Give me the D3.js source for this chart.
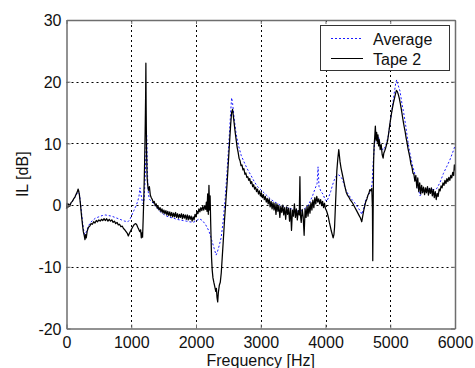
<!DOCTYPE html>
<html>
<head>
<meta charset="utf-8">
<script src="https://cdn.jsdelivr.net/npm/d3@7"></script>
<style>
  body { margin: 0; background: #fff; }
  svg { display: block; font-family: "Liberation Sans", Arial, sans-serif; }
</style>
</head>
<body>
<svg id="chart" width="475" height="368"></svg>
<script>
// axis ticks
const xTicks = [0, 1000, 2000, 3000, 4000, 5000, 6000];
const yTicks = [-20, -10, 0, 10, 20, 30];

// Average (blue dotted) — [Hz, dB]
const average = [
  [0,-0.3],[50,0.0],[100,0.8],[150,1.6],[185,2.4],[200,1.8],[220,0.0],[240,-2.0],[260,-3.8],[280,-4.8],
  [300,-4.5],[330,-3.6],[360,-3.0],[400,-2.5],[450,-2.1],[500,-1.9],[550,-1.7],[600,-1.6],[650,-1.7],
  [700,-1.8],[750,-2.0],[800,-2.2],[850,-2.4],[900,-2.6],[950,-2.7],[980,-2.3],[1010,-1.6],[1040,-0.9],
  [1070,-0.2],[1100,0.6],[1120,1.5],[1135,2.8],[1150,1.8],[1170,0.6],[1185,0.2],[1200,1.0],[1215,4.5],
  [1230,9.5],[1238,11.5],[1245,8.0],[1255,3.5],[1265,1.8],[1280,1.0],[1300,0.7],[1350,0.2],[1400,-0.5],
  [1450,-1.1],[1500,-1.5],[1550,-1.8],[1600,-2.0],[1650,-2.1],[1700,-2.3],[1750,-2.4],[1800,-2.5],
  [1850,-2.6],[1900,-2.7],[1950,-2.8],[2000,-2.6],[2050,-2.2],[2100,-2.5],[2150,-3.2],[2200,-4.2],
  [2240,-5.6],[2280,-7.0],[2310,-8.1],[2330,-7.6],[2360,-6.5],[2390,-5.2],[2420,-2.5],[2450,1.0],
  [2480,5.5],[2510,10.5],[2535,15.0],[2550,17.4],[2565,16.5],[2590,14.0],[2620,11.5],[2660,9.5],
  [2700,8.0],[2750,6.8],[2800,5.7],[2850,4.8],[2900,3.8],[2950,3.0],[3000,2.5],[3050,2.0],[3100,1.5],
  [3150,1.0],[3200,0.6],[3250,0.3],[3300,0.0],[3350,-0.2],[3400,-0.4],[3450,-0.5],[3500,-0.7],
  [3550,-0.9],[3600,-1.1],[3650,-0.8],[3700,-0.4],[3750,0.3],[3800,1.5],[3840,2.7],[3870,3.5],
  [3885,6.2],[3900,3.0],[3930,2.2],[3960,1.8],[3990,1.0],[4020,0.6],[4050,1.3],[4080,2.2],[4110,3.3],
  [4140,4.2],[4170,4.8],[4200,4.9],[4230,4.7],[4260,4.2],[4290,3.2],[4320,2.3],[4350,1.8],[4400,1.0],
  [4450,0.4],[4500,-0.4],[4540,-1.0],[4560,-1.5],[4590,-0.5],[4620,0.8],[4660,1.6],[4700,2.3],
  [4720,3.5],[4740,7.5],[4760,10.2],[4790,11.0],[4820,11.0],[4850,9.6],[4890,8.9],[4930,9.6],
  [4970,11.2],[5000,13.5],[5030,15.8],[5060,18.0],[5085,19.8],[5100,20.3],[5120,19.5],[5150,18.5],
  [5180,16.5],[5210,14.8],[5240,12.8],[5270,10.5],[5300,8.6],[5340,6.6],[5380,5.0],[5420,3.3],
  [5460,1.5],[5500,2.2],[5560,2.6],[5620,2.6],[5680,2.5],[5720,2.7],[5770,3.7],[5820,5.1],[5870,6.2],
  [5920,7.3],[5960,8.4],[6000,9.6]
];

// Tape 2 (black solid) — [Hz, dB]
const tape2 = [
  [0,-0.6],[10,0.3],[20,-0.4],[35,0.2],[50,-0.2],[70,0.4],[90,0.6],[110,1.0],[130,1.3],[150,1.8],
  [165,2.1],[180,2.6],[190,2.2],[200,1.6],[215,0.2],[230,-1.5],[245,-3.0],[260,-4.3],[275,-5.0],
  [285,-5.6],[295,-4.8],[305,-5.3],[320,-4.2],[340,-3.6],[360,-3.4],[380,-3.0],[400,-3.1],[420,-2.7],
  [440,-2.9],[460,-2.5],[480,-2.7],[500,-2.4],[520,-2.6],[540,-2.3],[560,-2.5],[580,-2.2],[600,-2.5],
  [620,-2.2],[640,-2.6],[660,-2.3],[680,-2.6],[700,-2.4],[720,-2.8],[740,-2.6],[760,-3.0],[780,-2.8],
  [800,-3.2],[820,-3.1],[840,-3.5],[860,-3.4],[880,-3.8],[900,-4.0],[920,-4.3],[940,-4.6],[955,-5.0],
  [970,-4.6],[990,-4.2],[1010,-3.8],[1030,-3.4],[1050,-3.1],[1070,-3.0],[1085,-3.2],[1100,-3.6],
  [1115,-3.9],[1130,-4.3],[1145,-4.0],[1155,-5.3],[1165,-4.5],[1175,-5.2],[1185,-2.0],[1195,1.5],
  [1205,6.0],[1215,12.0],[1222,17.7],[1226,23.0],[1230,16.0],[1236,9.0],[1245,4.5],[1255,3.2],
  [1265,2.4],[1280,3.0],[1295,1.6],[1310,1.2],[1325,0.9],[1340,0.4],[1355,0.6],[1370,-0.1],[1385,0.2],
  [1400,-0.5],[1415,-0.2],[1430,-0.8],[1445,-0.4],[1460,-1.1],[1475,-0.6],[1490,-1.3],[1505,-0.8],
  [1520,-1.4],[1535,-0.9],[1550,-1.6],[1565,-1.0],[1580,-1.7],[1595,-1.1],[1610,-1.8],[1625,-1.2],
  [1640,-1.9],[1655,-1.3],[1670,-1.9],[1685,-1.2],[1700,-2.0],[1715,-1.4],[1730,-2.1],[1745,-1.5],
  [1760,-2.0],[1775,-1.4],[1790,-2.2],[1805,-1.5],[1820,-2.1],[1835,-1.6],[1850,-2.3],[1865,-1.6],
  [1880,-2.4],[1895,-1.7],[1910,-2.3],[1925,-1.8],[1940,-2.6],[1955,-1.9],[1970,-2.4],[1985,-1.5],
  [2000,-1.9],[2015,-1.0],[2030,-1.4],[2045,-0.6],[2060,-1.1],[2075,-0.4],[2090,-0.9],[2105,-0.2],
  [2120,-0.8],[2135,-0.1],[2150,-0.7],[2160,0.5],[2170,-1.0],[2180,1.8],[2190,-1.5],[2200,3.2],
  [2210,-0.8],[2218,1.5],[2226,-2.5],[2232,-5.0],[2240,-8.5],[2250,-10.5],[2262,-11.8],[2275,-12.5],
  [2290,-13.2],[2305,-14.0],[2315,-13.5],[2325,-15.0],[2335,-15.7],[2345,-14.2],[2360,-13.0],
  [2375,-12.5],[2390,-11.0],[2405,-8.5],[2420,-6.0],[2440,-2.5],[2460,0.5],[2480,3.5],[2500,7.0],
  [2520,10.5],[2535,13.0],[2550,15.0],[2565,15.5],[2575,14.6],[2590,13.2],[2605,11.8],[2620,10.6],
  [2635,9.4],[2650,8.6],[2665,7.6],[2680,7.2],[2695,6.4],[2710,6.5],[2725,5.7],[2740,5.9],[2755,5.0],
  [2770,5.2],[2785,4.5],[2800,4.6],[2815,4.0],[2830,4.3],[2845,3.5],[2860,3.8],[2875,3.0],[2890,3.3],
  [2905,2.6],[2920,2.9],[2935,2.2],[2950,2.6],[2965,1.8],[2980,2.3],[2995,1.5],[3010,2.0],[3025,1.2],
  [3040,1.7],[3055,0.9],[3070,1.4],[3085,0.5],[3100,1.1],[3115,0.2],[3130,1.0],[3145,-0.3],[3160,0.6],
  [3175,-0.6],[3190,0.4],[3205,-0.8],[3220,0.3],[3235,-1.5],[3250,0.2],[3265,-1.0],[3280,-0.1],
  [3295,-2.0],[3310,-0.2],[3325,-1.2],[3340,0.0],[3355,-1.6],[3370,-0.4],[3385,-2.3],[3400,-0.3],
  [3415,-1.5],[3430,-0.5],[3445,-2.6],[3460,-0.6],[3475,-4.1],[3490,-0.8],[3505,-1.8],[3520,0.2],
  [3535,-2.0],[3550,-0.6],[3565,-2.4],[3580,-0.9],[3595,-1.6],[3605,4.6],[3612,-1.5],[3625,-2.8],
  [3640,-0.7],[3655,-1.9],[3670,-4.9],[3685,-0.6],[3700,-2.0],[3715,-0.2],[3730,-1.8],[3745,0.0],
  [3760,-1.3],[3775,0.4],[3790,-0.8],[3805,0.8],[3820,-0.4],[3835,1.2],[3850,0.2],[3865,1.4],
  [3880,0.5],[3895,1.0],[3910,0.2],[3925,0.9],[3940,-0.1],[3955,0.6],[3970,-0.4],[3985,0.3],
  [4000,-0.6],[4015,-0.9],[4030,-1.4],[4045,-2.0],[4060,-2.8],[4075,-3.5],[4090,-4.2],[4105,-4.8],
  [4118,-5.3],[4130,-4.8],[4140,-3.6],[4150,-1.0],[4162,2.0],[4175,5.5],[4190,7.5],[4205,9.0],
  [4215,8.0],[4225,7.0],[4240,6.0],[4260,5.0],[4280,4.0],[4300,3.0],[4320,2.1],[4340,1.6],[4360,1.3],
  [4380,0.9],[4400,0.6],[4420,0.3],[4440,-0.1],[4460,-0.5],[4480,-0.9],[4500,-1.3],[4520,-1.7],
  [4540,-2.1],[4560,-2.7],[4575,-1.8],[4590,-0.9],[4605,-0.2],[4620,0.5],[4640,1.0],[4655,1.6],
  [4670,1.9],[4685,2.5],[4700,2.3],[4715,2.7],[4725,-0.5],[4730,-9.0],[4735,-2.0],[4742,6.5],
  [4750,9.5],[4760,11.0],[4770,12.8],[4780,10.5],[4790,11.8],[4800,10.2],[4810,11.4],[4820,9.6],
  [4830,10.6],[4845,9.0],[4860,9.8],[4875,8.2],[4890,7.6],[4900,8.4],[4915,8.8],[4930,9.3],[4945,9.9],
  [4960,10.5],[4975,11.6],[4990,12.8],[5005,13.9],[5020,14.9],[5035,15.8],[5050,16.6],[5065,17.3],
  [5080,18.0],[5095,18.6],[5110,18.4],[5125,17.9],[5140,17.3],[5155,16.5],[5170,15.6],[5185,14.6],
  [5200,13.6],[5215,12.7],[5230,11.9],[5245,10.9],[5260,10.1],[5275,9.1],[5290,8.4],[5305,7.6],
  [5320,6.6],[5335,6.2],[5350,5.2],[5365,5.0],[5380,3.9],[5395,4.8],[5410,2.8],[5425,4.4],[5440,2.2],
  [5455,3.6],[5470,1.8],[5485,3.2],[5500,2.0],[5515,2.9],[5530,1.7],[5545,2.8],[5560,2.0],[5575,3.0],
  [5590,1.6],[5605,2.7],[5620,1.9],[5635,2.8],[5650,1.5],[5665,2.5],[5680,1.2],[5695,2.2],[5710,0.9],
  [5725,1.9],[5740,1.4],[5755,2.6],[5770,2.3],[5785,3.1],[5800,2.8],[5815,3.6],[5830,3.2],[5845,4.0],
  [5860,3.5],[5875,4.3],[5890,3.8],[5905,4.5],[5920,4.0],[5935,4.8],[5950,4.4],[5965,5.3],[5980,4.8],
  [5990,6.5],[6000,5.6]
];

const seriesNames = ['Average', 'Tape 2'];

const svg = d3.select('#chart');
const W = 475, H = 368;
const m = { left: 66.5, right: W - 455, top: 20, bottom: H - 328.5 };
const fontSize = '16px';

const x = d3.scaleLinear().domain([0, 6000]).range([m.left, W - m.right]);
const y = d3.scaleLinear().domain([-20, 30]).range([H - m.bottom, m.top]);

// dotted grid
const grid = svg.append('g').attr('class', 'grid');
grid.selectAll('line.vx')
  .data(xTicks.slice(1, -1))
  .enter().append('line')
  .attr('x1', d => Math.round(x(d)) + 0.5).attr('x2', d => Math.round(x(d)) + 0.5)
  .attr('y1', y(30)).attr('y2', y(-20))
  .attr('stroke', '#000').attr('stroke-width', 1)
  .attr('stroke-dasharray', '2,3');
grid.selectAll('line.hy')
  .data(yTicks.slice(1, -1))
  .enter().append('line')
  .attr('y1', d => Math.round(y(d)) + 0.5).attr('y2', d => Math.round(y(d)) + 0.5)
  .attr('x1', x(0)).attr('x2', x(6000))
  .attr('stroke', '#000').attr('stroke-width', 1)
  .attr('stroke-dasharray', '2,3');

const line = d3.line().x(d => x(d[0])).y(d => y(d[1]));

const plot = svg.append('g');
plot.append('path')
  .datum(average)
  .attr('d', line)
  .attr('fill', 'none')
  .attr('stroke', '#1a1aff')
  .attr('stroke-width', 1)
  .attr('stroke-dasharray', '2,2');

plot.append('path')
  .datum(tape2)
  .attr('d', line)
  .attr('fill', 'none')
  .attr('stroke', '#000')
  .attr('stroke-width', 1.25)
  .attr('stroke-linejoin', 'round');

// axes (MATLAB style: ticks inside, box all round); plain hyphen for negatives
const axisColor = '#6e6e6e';
const fmt = d => String(d);
const xAxis = svg.append('g')
  .attr('transform', `translate(0,${y(-20)})`)
  .call(d3.axisBottom(x).tickValues(xTicks).tickFormat(fmt).tickSizeInner(-4).tickSizeOuter(0).tickPadding(8));
const yAxis = svg.append('g')
  .attr('transform', `translate(${x(0)},0)`)
  .call(d3.axisLeft(y).tickValues(yTicks).tickFormat(fmt).tickSizeInner(-4).tickSizeOuter(0).tickPadding(5));
const xTop = svg.append('g')
  .attr('transform', `translate(0,${y(30)})`)
  .call(d3.axisTop(x).tickValues(xTicks).tickSizeInner(-4).tickSizeOuter(0).tickFormat(''));
const yRight = svg.append('g')
  .attr('transform', `translate(${x(6000)},0)`)
  .call(d3.axisRight(y).tickValues(yTicks).tickSizeInner(-4).tickSizeOuter(0).tickFormat(''));

[xAxis, yAxis, xTop, yRight].forEach(a => {
  a.select('.domain').attr('stroke', axisColor).attr('stroke-width', 1.5);
  a.selectAll('.tick line').attr('stroke', axisColor);
  a.selectAll('.tick text').attr('fill', '#111').style('font-size', fontSize)
    .style('font-family', '"Liberation Sans", Arial, sans-serif');
});
yAxis.selectAll('.tick text').attr('dy', '0.36em');

// axis labels
svg.append('text')
  .attr('x', (x(0) + x(6000)) / 2).attr('y', 366)
  .attr('text-anchor', 'middle')
  .style('font-size', fontSize).attr('fill', '#111')
  .text('Frequency [Hz]');
svg.append('text')
  .attr('transform', `translate(28,${(y(-20) + y(30)) / 2}) rotate(-90)`)
  .attr('text-anchor', 'middle')
  .style('font-size', fontSize).attr('fill', '#111')
  .text('IL [dB]');

// legend
const lg = svg.append('g');
lg.append('rect')
  .attr('x', 320.5).attr('y', 25.5).attr('width', 129).attr('height', 45)
  .attr('fill', '#fff').attr('stroke', '#333').attr('stroke-width', 1);
const legendStyles = [
  { stroke: '#1a1aff', dash: '2,2' },
  { stroke: '#000', dash: null }
];
seriesNames.forEach((name, i) => {
  const ly = 38.5 + i * 20;
  lg.append('line')
    .attr('x1', 331).attr('x2', 363).attr('y1', ly).attr('y2', ly)
    .attr('stroke', legendStyles[i].stroke).attr('stroke-width', 1)
    .attr('stroke-dasharray', legendStyles[i].dash);
  lg.append('text')
    .attr('x', 373).attr('y', ly + 6)
    .style('font-size', fontSize).attr('fill', '#111')
    .text(name);
});
</script>
</body>
</html>
